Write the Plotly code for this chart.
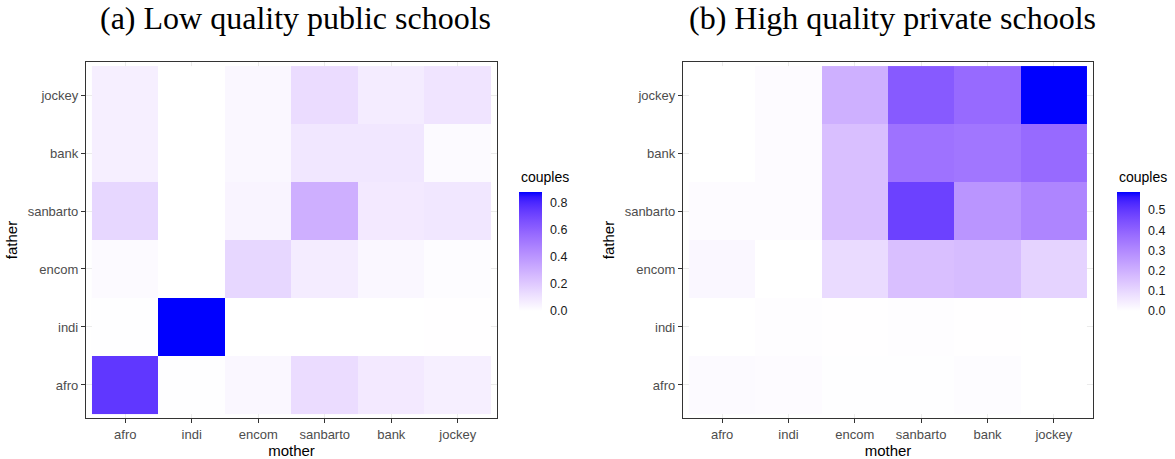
import plotly.graph_objects as go

W, H = 1175, 459

categories = ["afro", "indi", "encom", "sanbarto", "bank", "jockey"]
mother_labels = categories
father_labels = categories

# rows = father (afro ... jockey, bottom to top), cols = mother
low_public = [
    [0.75, 0.005, 0.03, 0.13, 0.08, 0.06],   # father afro
    [0.005, 0.878, 0.0, 0.0, 0.0, 0.002],    # father indi
    [0.02, 0.0, 0.15, 0.07, 0.03, 0.01],     # father encom
    [0.15, 0.0, 0.04, 0.30, 0.08, 0.09],     # father sanbarto
    [0.06, 0.0, 0.03, 0.09, 0.09, 0.02],     # father bank
    [0.06, 0.0, 0.03, 0.13, 0.07, 0.10],     # father jockey
]
high_private = [
    [0.012, 0.01, 0.003, 0.003, 0.008, 0.0],  # father afro
    [0.0, 0.004, 0.002, 0.006, 0.002, 0.0],   # father indi
    [0.02, 0.0, 0.09, 0.16, 0.17, 0.11],      # father encom
    [0.01, 0.01, 0.16, 0.48, 0.27, 0.31],     # father sanbarto
    [0.0, 0.01, 0.16, 0.36, 0.35, 0.38],      # father bank
    [0.0, 0.01, 0.20, 0.42, 0.38, 0.589],     # father jockey
]

titles = ["(a) Low quality public schools", "(b) High quality private schools"]
ticks_low = [0.0, 0.2, 0.4, 0.6, 0.8]
ticks_high = [0.0, 0.1, 0.2, 0.3, 0.4, 0.5]


# ---- white -> blue gradient interpolated in CIE Lab (like ggplot2) ----
def srgb_to_lin(c):
    c = c / 255.0
    return c / 12.92 if c <= 0.04045 else ((c + 0.055) / 1.055) ** 2.4


def lin_to_srgb(c):
    c = max(0.0, min(1.0, c))
    v = 12.92 * c if c <= 0.0031308 else 1.055 * c ** (1 / 2.4) - 0.055
    return int(round(v * 255))


Xn, Yn, Zn = 0.95047, 1.0, 1.08883


def rgb_to_lab(rgb):
    r, g, b = [srgb_to_lin(v) for v in rgb]
    X = 0.4124564 * r + 0.3575761 * g + 0.1804375 * b
    Y = 0.2126729 * r + 0.7151522 * g + 0.0721750 * b
    Z = 0.0193339 * r + 0.1191920 * g + 0.9503041 * b

    def f(t):
        return t ** (1 / 3) if t > 216 / 24389 else (24389 / 27 * t + 16) / 116

    fx, fy, fz = f(X / Xn), f(Y / Yn), f(Z / Zn)
    return (116 * fy - 16, 500 * (fx - fy), 200 * (fy - fz))


def lab_to_rgb(lab):
    L, a, b = lab
    fy = (L + 16) / 116
    fx = fy + a / 500
    fz = fy - b / 200

    def finv(t):
        return t ** 3 if t ** 3 > 216 / 24389 else (116 * t - 16) / (24389 / 27)

    X, Y, Z = finv(fx) * Xn, finv(fy) * Yn, finv(fz) * Zn
    r = 3.2404542 * X - 1.5371385 * Y - 0.4985314 * Z
    g = -0.9692660 * X + 1.8760108 * Y + 0.0415560 * Z
    bb = 0.0556434 * X - 0.2040259 * Y + 1.0572252 * Z
    return lin_to_srgb(r), lin_to_srgb(g), lin_to_srgb(bb)


lab_lo = rgb_to_lab((255, 255, 255))
lab_hi = rgb_to_lab((0, 0, 255))
N = 24
colorscale = []
for i in range(N + 1):
    t = i / N
    lab = tuple(lab_lo[k] + (lab_hi[k] - lab_lo[k]) * t for k in range(3))
    r, g, b = lab_to_rgb(lab)
    colorscale.append([t, f"rgb({r},{g},{b})"])

# ---- layout geometry (pixels) ----
panels = [
    dict(x0=86, x1=497, cb_x=519),
    dict(x0=683, x1=1093, cb_x=1117),
]
py0, py1 = 62, 418
cb_top, cb_bot = 192, 311
cb_w = 23


def px(x):
    return x / W


def py(y):
    return 1 - y / H


fig = go.Figure()
datas = [low_public, high_private]
tickss = [ticks_low, ticks_high]

annotations = []
shapes = []
for i, (data, p) in enumerate(zip(datas, panels)):
    sfx = "" if i == 0 else str(i + 1)
    zmax = max(max(r) for r in data)
    fig.add_trace(go.Heatmap(
        z=data, x=mother_labels, y=father_labels,
        xaxis="x" + sfx, yaxis="y" + sfx,
        coloraxis="coloraxis" + sfx,
        xgap=0, ygap=0,
        hovertemplate="mother=%{x}<br>father=%{y}<br>couples=%{z}<extra></extra>",
    ))
    axis_common = dict(
        showline=True, mirror=True, linecolor="#333333", linewidth=1.3,
        ticks="outside", ticklen=4, tickwidth=1, tickcolor="#333333",
        showgrid=True, gridcolor="#ebebeb", gridwidth=1,
        zeroline=False,
        tickfont=dict(family="Liberation Sans, Arial", size=13, color="#4d4d4d"),
        title_font=dict(family="Liberation Sans, Arial", size=15, color="#000000"),
        type="category",
        fixedrange=True,
    )
    fig.update_layout(**{
        "xaxis" + sfx: dict(
            axis_common, domain=[px(p["x0"]), px(p["x1"])],
            anchor="y" + sfx, range=[-0.59, 5.59],
            categoryorder="array", categoryarray=mother_labels,
            title=dict(text="mother", standoff=1),
        ),
        "yaxis" + sfx: dict(
            axis_common, domain=[py(py1), py(py0)],
            anchor="x" + sfx, range=[-0.57, 5.57],
            categoryorder="array", categoryarray=father_labels,
            title=dict(text="father", standoff=6),
        ),
        "coloraxis" + sfx: dict(
            colorscale=colorscale, cmin=0, cmax=zmax,
            colorbar=dict(
                x=px(p["cb_x"]), xanchor="left", xref="paper",
                y=py((cb_top + cb_bot) / 2), yanchor="middle", yref="paper",
                len=cb_bot - cb_top, lenmode="pixels",
                thickness=cb_w, thicknessmode="pixels",
                xpad=0, ypad=0, outlinewidth=0,
                tickvals=tickss[i], ticktext=[f"{v:.1f}" for v in tickss[i]],
                ticks="outside", ticklen=6, tickcolor="rgba(255,255,255,0)",
                tickfont=dict(family="Liberation Sans, Arial", size=12.5, color="#1a1a1a"),
            ),
        ),
    })
    # white inner tick marks on both edges of the colour bar (ggplot style)
    for v in tickss[i]:
        yy = cb_bot - (v / zmax) * (cb_bot - cb_top)
        for xa, xb in ((p["cb_x"], p["cb_x"] + 4.5), (p["cb_x"] + cb_w - 4.5, p["cb_x"] + cb_w)):
            shapes.append(dict(
                type="line", xref="paper", yref="paper",
                x0=px(xa), x1=px(xb), y0=py(yy), y1=py(yy),
                line=dict(color="white", width=1), layer="above",
            ))
    annotations.append(dict(
        text=titles[i], x=px((p["x0"] + p["x1"]) / 2 + 4), y=py(18),
        xref="paper", yref="paper", xanchor="center", yanchor="middle",
        showarrow=False,
        font=dict(family="Liberation Serif, Times New Roman, serif", size=32, color="#000000"),
    ))
    annotations.append(dict(
        text="couples", x=px(p["cb_x"]), y=py(187),
        xref="paper", yref="paper", xanchor="left", yanchor="bottom",
        showarrow=False,
        font=dict(family="Liberation Sans, Arial", size=14, color="#000000"),
    ))

fig.update_layout(
    width=W, height=H,
    margin=dict(l=0, r=0, t=0, b=0),
    paper_bgcolor="white", plot_bgcolor="white",
    annotations=annotations,
    shapes=shapes,
    showlegend=False,
)

fig.write_html("out.html")
